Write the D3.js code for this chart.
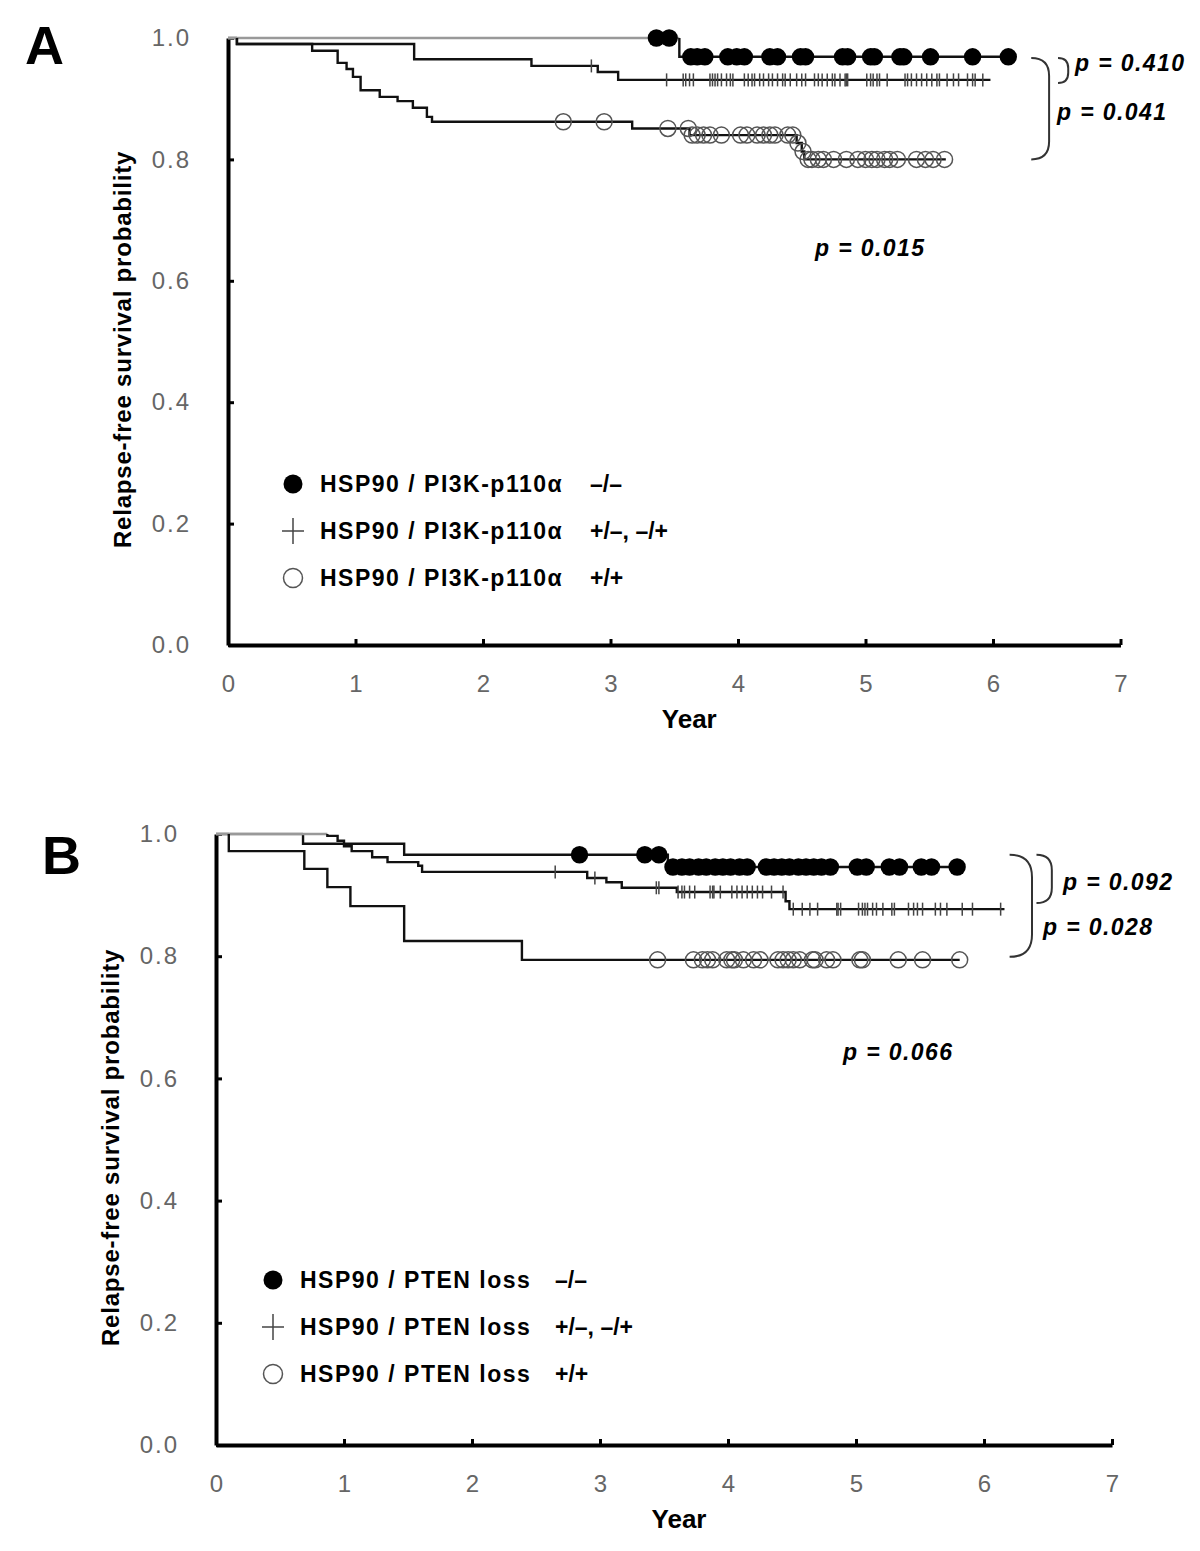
<!DOCTYPE html>
<html><head><meta charset="utf-8">
<script src="https://cdnjs.cloudflare.com/ajax/libs/d3/7.8.5/d3.min.js"></script>
<style>body{margin:0;background:#fff;} svg{display:block;font-family:"Liberation Sans",Arial,sans-serif;}</style>
</head><body><svg id="c" width="1200" height="1551"></svg>
<script>
// ---------- data ----------
const xTicks = [0, 1, 2, 3, 4, 5, 6, 7];
const yTicks = [0, 0.2, 0.4, 0.6, 0.8, 1.0];
const yTickLabels = ["0.0", "0.2", "0.4", "0.6", "0.8", "1.0"];
const xTitle = "Year";
const yTitle = "Relapse-free survival probability";
const groupLabels = ["\u2013/\u2013", "+/\u2013, \u2013/+", "+/+"];
const legendNamesA = ["HSP90 / PI3K-p110\u03b1", "HSP90 / PI3K-p110\u03b1", "HSP90 / PI3K-p110\u03b1"];
const legendNamesB = ["HSP90 / PTEN loss", "HSP90 / PTEN loss", "HSP90 / PTEN loss"];
const pValuesA = ["p = 0.410", "p = 0.041", "p = 0.015"];
const pValuesB = ["p = 0.092", "p = 0.028", "p = 0.066"];

// Panel A, group -/- (filled circles)
const aNegTimes = [3.54];
const aNegSurv = [0.969];
const aNegCensor = [3.36, 3.46, 3.63, 3.68, 3.74, 3.92, 3.99, 4.05, 4.25, 4.31, 4.49, 4.53, 4.82, 4.86, 5.04, 5.07, 5.27, 5.30, 5.51, 5.84, 6.12];
const aNegEnd = 6.12;
// Panel A, group +/-, -/+ (crosses)
const aMixTimes = [0.07, 1.46, 2.38, 2.90, 3.06];
const aMixSurv = [0.990, 0.965, 0.954, 0.944, 0.931];
const aMixCensor = [2.85, 3.44, 3.57, 3.59, 3.62, 3.65, 3.78, 3.80, 3.82, 3.84, 3.87, 3.91, 3.94, 3.96, 4.05, 4.08, 4.11, 4.13, 4.17, 4.20, 4.24, 4.27, 4.31, 4.35, 4.37, 4.41, 4.46, 4.50, 4.53, 4.60, 4.63, 4.66, 4.70, 4.74, 4.76, 4.80, 4.84, 4.85, 4.86, 5.01, 5.04, 5.06, 5.09, 5.11, 5.17, 5.31, 5.33, 5.36, 5.40, 5.44, 5.48, 5.52, 5.56, 5.58, 5.64, 5.69, 5.73, 5.80, 5.84, 5.86, 5.92];
const aMixEnd = 5.98;
// Panel A, group +/+ (open circles)
const aPosTimes = [0.07, 0.66, 0.86, 0.93, 0.98, 1.04, 1.19, 1.33, 1.45, 1.56, 1.60, 3.17, 3.62, 4.46, 4.50, 4.52];
const aPosSurv = [0.990, 0.979, 0.959, 0.949, 0.936, 0.914, 0.903, 0.896, 0.885, 0.870, 0.862, 0.851, 0.840, 0.827, 0.813, 0.800];
const aPosCensor = [2.63, 2.95, 3.45, 3.61, 3.64, 3.68, 3.73, 3.78, 3.87, 4.02, 4.07, 4.15, 4.20, 4.25, 4.29, 4.39, 4.43, 4.47, 4.51, 4.55, 4.58, 4.63, 4.67, 4.75, 4.85, 4.94, 5.00, 5.05, 5.09, 5.15, 5.19, 5.25, 5.40, 5.47, 5.53, 5.62];
const aPosEnd = 5.63;

// Panel B, group -/- (filled circles)
const bNegTimes = [0.68, 1.47, 3.53];
const bNegSurv = [0.984, 0.966, 0.946];
const bNegCensor = [2.84, 3.35, 3.46, 3.57, 3.64, 3.70, 3.77, 3.83, 3.90, 3.96, 4.02, 4.09, 4.15, 4.30, 4.36, 4.42, 4.48, 4.55, 4.61, 4.67, 4.73, 4.80, 5.01, 5.08, 5.26, 5.34, 5.51, 5.59, 5.79];
const bNegEnd = 5.79;
// Panel B, group +/-, -/+ (crosses)
const bMixTimes = [0.87, 0.95, 1.00, 1.06, 1.22, 1.34, 1.58, 1.61, 2.90, 3.05, 3.17, 3.60, 4.45, 4.48];
const bMixSurv = [0.997, 0.989, 0.980, 0.972, 0.962, 0.954, 0.948, 0.938, 0.928, 0.921, 0.912, 0.905, 0.890, 0.877];
const bMixCensor = [2.65, 2.96, 3.44, 3.46, 3.61, 3.64, 3.66, 3.70, 3.74, 3.86, 3.88, 3.89, 3.94, 4.03, 4.07, 4.11, 4.15, 4.19, 4.23, 4.27, 4.34, 4.43, 4.51, 4.58, 4.64, 4.70, 4.85, 4.86, 4.88, 5.02, 5.05, 5.07, 5.09, 5.13, 5.16, 5.21, 5.28, 5.30, 5.41, 5.45, 5.48, 5.52, 5.62, 5.66, 5.71, 5.83, 5.91, 6.13];
const bMixEnd = 6.16;
// Panel B, group +/+ (open circles)
const bPosTimes = [0.10, 0.69, 0.87, 1.05, 1.47, 2.39];
const bPosSurv = [0.972, 0.943, 0.913, 0.882, 0.825, 0.794];
const bPosCensor = [3.45, 3.73, 3.80, 3.84, 3.88, 3.99, 4.03, 4.05, 4.12, 4.20, 4.25, 4.39, 4.43, 4.47, 4.51, 4.56, 4.66, 4.68, 4.77, 4.82, 5.03, 5.05, 5.33, 5.52, 5.81];
const bPosEnd = 5.81;

// comparison brackets: [top survival, bottom survival]
const bracketsA = [[0.967, 0.926], [0.967, 0.800]];
const bracketsB = [[0.966, 0.887], [0.966, 0.799]];

// ---------- drawing ----------
const svg = d3.select("#c");
const markerTypes = ["filled", "cross", "open"];

const panels = [
  { letter: "A", letterX: 25, letterY: 64,
    xr: [228, 1120.5], yr: [645, 38],
    series: [
      { t: aNegTimes, s: aNegSurv, c: aNegCensor, end: aNegEnd },
      { t: aMixTimes, s: aMixSurv, c: aMixCensor, end: aMixEnd },
      { t: aPosTimes, s: aPosSurv, c: aPosCensor, end: aPosEnd } ],
    names: legendNamesA, legX: 293, legY: [484, 531, 578], legCol: 590,
    yTitleX: 122, labelPad: 37,
    pv: pValuesA, pvPos: [[1075, 63], [1057, 112], [815, 248]],
    brackets: bracketsA, brX: [[6.51, 6.59], [6.30, 6.44]] },
  { letter: "B", letterX: 42, letterY: 874,
    xr: [216, 1112], yr: [1445, 834],
    series: [
      { t: bNegTimes, s: bNegSurv, c: bNegCensor, end: bNegEnd },
      { t: bMixTimes, s: bMixSurv, c: bMixCensor, end: bMixEnd },
      { t: bPosTimes, s: bPosSurv, c: bPosCensor, end: bPosEnd } ],
    names: legendNamesB, legX: 273, legY: [1280, 1327, 1374], legCol: 555,
    yTitleX: 110, labelPad: 37,
    pv: pValuesB, pvPos: [[1063, 882], [1043, 927], [843, 1052]],
    brackets: bracketsB, brX: [[6.41, 6.53], [6.20, 6.375]] }
];

function survAt(t, times, surv) {
  let s = 1;
  for (let i = 0; i < times.length; i++) { if (times[i] <= t) s = surv[i]; }
  return s;
}

function drawMarker(g, type, x, y, legend) {
  if (type === "filled") {
    g.append("circle").attr("cx", x).attr("cy", y).attr("r", legend ? 9.5 : 8.7).attr("fill", "#000");
  } else if (type === "open") {
    g.append("circle").attr("cx", x).attr("cy", y).attr("r", legend ? 9.5 : 8)
      .attr("fill", "none").attr("stroke", "#555").attr("stroke-width", 1.5);
  } else {
    const h = legend ? 13 : 6.5;
    g.append("line").attr("x1", x).attr("x2", x).attr("y1", y - h).attr("y2", y + h)
      .attr("stroke", "#444").attr("stroke-width", 1.5);
    if (legend) g.append("line").attr("x1", x - 11).attr("x2", x + 11).attr("y1", y).attr("y2", y)
      .attr("stroke", "#444").attr("stroke-width", 1.5);
  }
}

panels.forEach(p => {
  const x = d3.scaleLinear().domain([0, 7]).range(p.xr);
  const y = d3.scaleLinear().domain([0, 1]).range(p.yr);
  const g = svg.append("g");

  // panel letter
  g.append("text").attr("x", p.letterX).attr("y", p.letterY).text(p.letter)
    .attr("font-size", 54).attr("font-weight", "bold").attr("fill", "#000");

  // axes
  const xAxis = d3.axisBottom(x).tickValues(xTicks).tickFormat(d3.format("d"))
    .tickSizeInner(-6).tickSizeOuter(0).tickPadding(30);
  const gx = g.append("g").attr("transform", `translate(0,${p.yr[0]})`).call(xAxis);
  const yAxis = d3.axisLeft(y).tickValues(yTicks).tickFormat((d, i) => yTickLabels[i])
    .tickSizeInner(-6).tickSizeOuter(0).tickPadding(p.labelPad);
  const gy = g.append("g").attr("transform", `translate(${p.xr[0]},0)`).call(yAxis);
  [gx, gy].forEach(a => {
    a.select(".domain").attr("stroke", "#000").attr("stroke-width", 4);
    a.selectAll(".tick line").attr("stroke", "#000").attr("stroke-width", 3);
    a.selectAll(".tick text").attr("fill", "#666").attr("font-size", 24)
      .attr("font-family", "'Liberation Sans', Arial, sans-serif");
  });
  gy.selectAll(".tick text").attr("letter-spacing", 2);

  // titles
  g.append("text").attr("x", (p.xr[0] + p.xr[1]) / 2 + 15).attr("y", p.yr[0] + 83)
    .attr("text-anchor", "middle").attr("font-size", 26).attr("font-weight", "bold").text(xTitle);
  const yc = (p.yr[0] + p.yr[1]) / 2 + 8;
  g.append("text").attr("transform", `translate(${p.yTitleX},${yc}) rotate(-90)`)
    .attr("text-anchor", "middle").attr("dominant-baseline", "central")
    .attr("font-size", 24).attr("font-weight", "bold").attr("letter-spacing", 0.8).text(yTitle);

  // curves
  p.series.forEach(s => {
    const first = s.t[0];
    g.append("line").attr("x1", x(0)).attr("x2", x(first)).attr("y1", y(1)).attr("y2", y(1))
      .attr("stroke", "#999").attr("stroke-width", 2.5);
    const pts = [[first, 1]];
    let prev = 1;
    s.t.forEach((t, i) => { pts.push([t, prev]); pts.push([t, s.s[i]]); prev = s.s[i]; });
    pts.push([s.end, prev]);
    g.append("path").attr("d", d3.line().x(d => x(d[0])).y(d => y(d[1]))(pts))
      .attr("fill", "none").attr("stroke", "#111").attr("stroke-width", 2.4);
  });
  // censor marks
  p.series.forEach((s, k) => {
    s.c.forEach(t => drawMarker(g, markerTypes[k], x(t), y(survAt(t, s.t, s.s)), false));
  });

  // legend
  p.names.forEach((n, k) => {
    drawMarker(g, markerTypes[k], p.legX, p.legY[k], true);
    g.append("text").attr("x", p.legX + 27).attr("y", p.legY[k]).attr("dominant-baseline", "central")
      .attr("font-size", 23).attr("font-weight", "bold").attr("letter-spacing", 1.5).text(n);
    g.append("text").attr("x", p.legCol).attr("y", p.legY[k]).attr("dominant-baseline", "central")
      .attr("font-size", 23).attr("font-weight", "bold").text(groupLabels[k]);
  });

  // p values
  p.pv.forEach((v, i) => {
    g.append("text").attr("x", p.pvPos[i][0]).attr("y", p.pvPos[i][1]).attr("dominant-baseline", "central")
      .attr("font-size", 23).attr("font-weight", "bold").attr("font-style", "italic")
      .attr("letter-spacing", 1.4).text(v);
  });

  // brackets
  p.brackets.forEach((b, i) => {
    const x0 = x(p.brX[i][0]), x1 = x(p.brX[i][1]);
    const yt = y(b[0]), yb = y(b[1]);
    const r = Math.min(x1 - x0, (yb - yt) / 2);
    const path = d3.path();
    path.moveTo(x0, yt);
    path.quadraticCurveTo(x1, yt, x1, yt + r);
    path.lineTo(x1, yb - r);
    path.quadraticCurveTo(x1, yb, x0, yb);
    g.append("path").attr("d", path.toString()).attr("fill", "none")
      .attr("stroke", "#333").attr("stroke-width", 2);
  });
});
</script></body></html>
